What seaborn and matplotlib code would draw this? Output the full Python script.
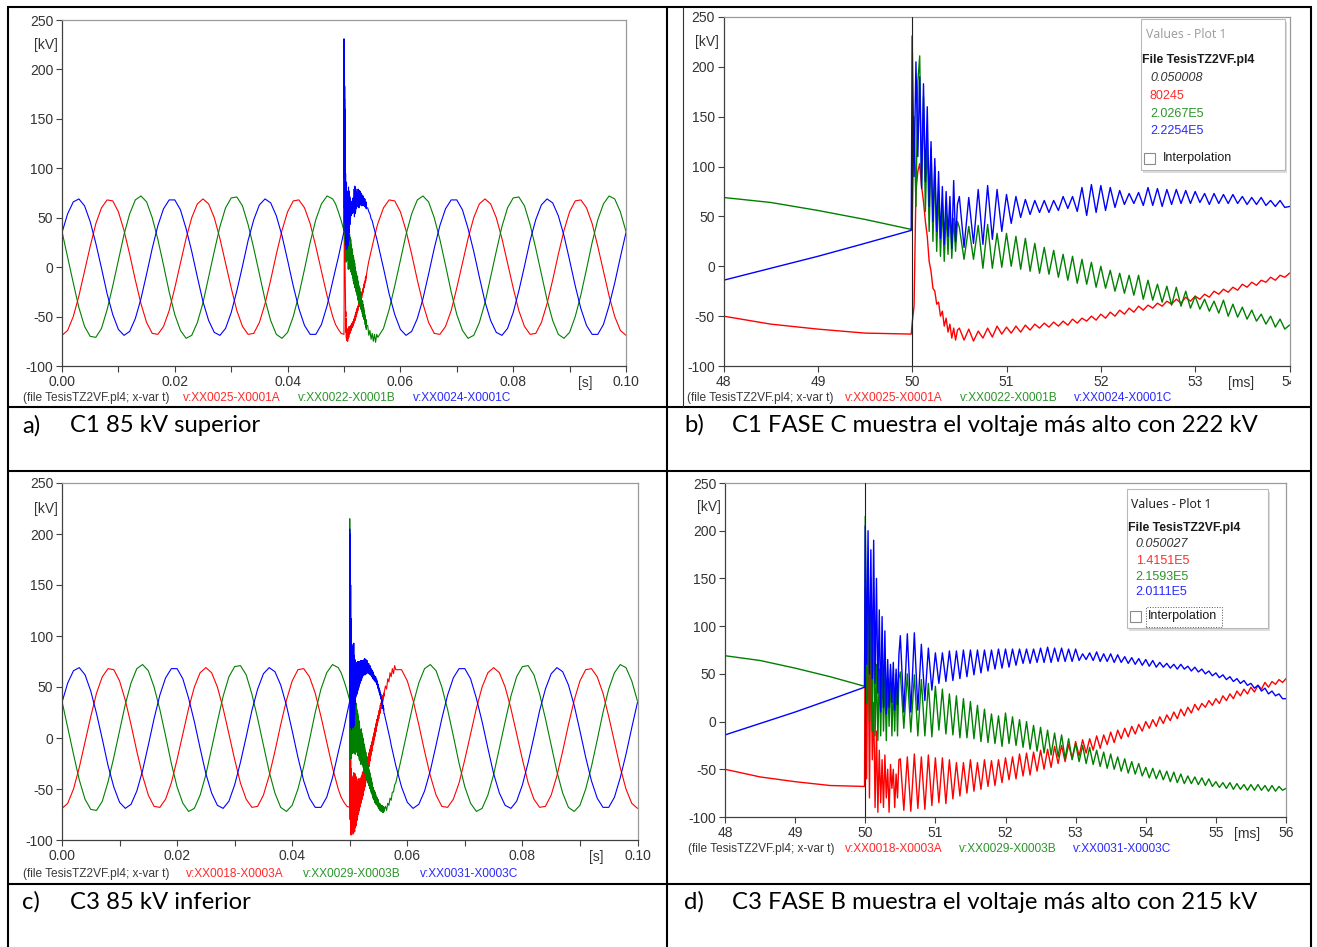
import numpy as np
import pandas as pd
import matplotlib
matplotlib.use("Agg")
import matplotlib.pyplot as plt
import seaborn as sns
from matplotlib.patches import Rectangle
from matplotlib.lines import Line2D
from matplotlib.transforms import Bbox, blended_transform_factory

sns.set_style("ticks")
plt.rcParams['font.family'] = ['Liberation Sans', 'DejaVu Sans']

# ---------------- data (kV, time in ms) ----------------
T_SS = np.arange(0, 101, 1.0)
RED_SS = [-69,-64,-50,-29,-4,21,44,60,68,67,56,37,13,-13,-37,-56,-67,-68,-60,-44,-21,4,29,50,64,69,64,50,29,4,-21,-44,-60,-68,-67,-56,-37,-13,13,37,56,67,68,60,44,21,-4,-29,-50,-64,
          -69,-64,-50,-29,-4,21,44,60,68,67,56,37,13,-13,-37,-56,-67,-68,-60,-44,-21,4,29,50,64,69,64,50,29,4,-21,-44,-60,-68,-67,-56,-37,-13,13,37,56,67,68,60,44,21,-4,-29,-50,-64,-69]
GREEN_SS = [36,10,-16,-41,-60,-70,-71,-62,-43,-19,7,33,54,68,72,66,50,28,2,-25,-48,-64,-72,-69,-56,-36,-10,16,41,60,70,71,62,43,19,-7,-33,-54,-68,-72,-66,-50,-28,-2,25,48,64,72,69,56,
            36,10,-16,-41,-60,-70,-71,-62,-43,-19,7,33,54,68,72,66,50,28,2,-25,-48,-64,-72,-69,-56,-36,-10,16,41,60,70,71,62,43,19,-7,-33,-54,-68,-72,-66,-50,-28,-2,25,48,64,72,69,56,36]
BLUE_SS = [35,54,66,69,62,46,24,-1,-27,-48,-63,-69,-65,-52,-32,-7,19,42,59,68,68,58,39,16,-10,-35,-54,-66,-69,-62,-46,-24,1,27,48,63,69,65,52,32,7,-19,-42,-59,-68,-68,-58,-39,-16,10,
           35,54,66,69,62,46,24,-1,-27,-48,-63,-69,-65,-52,-32,-7,19,42,59,68,68,58,39,16,-10,-35,-54,-66,-69,-62,-46,-24,1,27,48,63,69,65,52,32,7,-19,-42,-59,-68,-68,-58,-39,-16,10,35]

T_PRE = [48.0, 48.5, 49.0, 49.5, 49.99]
RED_PRE = [-50, -58, -63, -67, -68]
GREEN_PRE = [69, 64, 56, 47, 37]
BLUE_PRE = [-14, -2, 10, 23, 36]

# C1 transient (panels a, b)
C1_RED = ([-57,-40,75,95,103,80,65,45,30,5,-5,-22,-25,-38,-36,-50,-45,-60,-52,-66,-58,-72,-62,-74,-64]
          + [-62,-74,-63,-75,-65,-72,-62,-71,-60,-68,-61,-67,-60,-66,-59,-64,-58,-62,-57,-61,
             -56,-60,-55,-59,-53,-57,-52,-55,-50,-54,-48,-52,-46,-50,-44,-48,-42,-46,-40,-44,
             -39,-42,-37,-40,-35,-38,-33,-37,-31,-35,-30,-33,-28,-31,-25,-28,-23,-26,-21,-24,
             -18,-21,-16,-19,-14,-16,-11,-14,-9,-11,-7]
          + [0,6,11,16,21,26,31,35,40,44])
C1_GREEN = ([40,150,60,185,211,80,170,55,130,35,118,25,100,15,75,10,62,5,55,12,60,8,48,15,45]
            + [39,7,40,7,41,-2,42,-2,33,-1,33,0,30,-3,28,-5,23,-7,19,-8,
               16,-11,12,-14,10,-17,7,-18,4,-21,0,-22,-4,-25,-7,-27,-9,-29,-9,-33,
               -14,-34,-18,-36,-20,-39,-21,-40,-25,-42,-30,-43,-33,-45,-35,-47,-34,-50,-38,-51,
               -41,-53,-44,-55,-48,-58,-50,-61,-53,-63,-59]
            + [-59,-69,-64,-73,-67,-75,-68,-76,-68,-71])
C1_BLUE = ([231,90,205,110,190,78,183,85,160,60,125,45,108,35,95,28,80,22,75,30,70,18,86,25,62]
           + [70,19,69,23,77,22,81,27,77,35,72,43,70,49,67,52,66,54,66,54,
              66,56,70,58,70,55,79,51,82,54,81,56,79,59,76,62,73,63,74,61,
              79,61,78,60,77,62,77,63,76,63,75,64,73,62,73,63,72,63,72,63,
              70,62,69,62,69,61,66,60,66,59,60]
           + [60,56,54,49,47,42,38,33,29,24])

# C3 transient (panels c, d)
C3_RED = ([140,-60,120,-80,86,-40,20,-90,-10,-95,-30,-85,-40,-90,-35,-80,-50,-95,-45,-70,-50,-90,-55,-80,-40]
          + [-39,-93,-37,-94,-34,-91,-37,-92,-35,-88,-38,-85,-38,-86,-40,-81,-43,-78,-43,-75,
             -40,-73,-43,-71,-40,-68,-41,-67,-40,-64,-38,-61,-37,-60,-34,-57,-33,-56,-32,-52,
             -30,-50,-29,-48,-26,-44,-25,-42,-24,-39,-21,-36,-19,-33,-18,-30,-15,-28,-14,-24,
             -11,-22,-9,-18,-7,-16,-5,-13,-3,-10,0,-7,2,-5,5,-2,7,1,10,3,
             13,6,15,9,18,12,19,15,22,17,24,19,27,22,29,24,32,27,34,29,
             36,31,38,34,41,36,42,39,44,41,45]
          + [51,48,58,55,64,60,68,63,71,67])
C3_GREEN = ([215,20,170,0,150,-10,120,-15,60,-20,55,-15,60,-10,50,-20,45,-5,55,-15,40,-10,50,-15,45]
            + [52,-7,50,-11,49,-15,44,-15,40,-16,37,-9,34,-13,29,-14,27,-17,24,-17,
               21,-18,17,-21,13,-22,8,-23,6,-26,9,-23,5,-25,2,-27,0,-29,-4,-31,
               -6,-33,-9,-35,-12,-37,-14,-39,-18,-40,-23,-42,-25,-44,-27,-45,-30,-47,-32,-49,
               -34,-50,-37,-52,-39,-54,-42,-55,-44,-57,-48,-59,-49,-60,-51,-61,-52,-63,-53,-64,
               -55,-65,-57,-65,-58,-66,-59,-67,-60,-68,-63,-69,-64,-70,-64,-71,-65,-71,-66,-72,
               -66,-72,-66,-72,-67,-73,-67,-73,-68,-72,-70]
            + [-67,-71,-64,-66,-59,-61,-53,-53,-46,-44])
C3_BLUE = ([205,60,200,50,180,45,190,40,150,30,117,10,110,15,95,8,65,15,60,20,62,12,55,18,70]
           + [90,10,92,10,93,12,81,22,77,33,72,40,72,42,74,43,74,45,75,47,
              75,49,75,51,75,53,75,55,76,56,76,57,76,59,76,61,76,61,76,62,
              77,62,78,62,77,63,77,63,76,63,76,64,71,65,72,64,73,63,71,63,
              71,62,70,62,68,61,67,60,66,59,65,58,64,57,62,57,61,56,60,55,
              60,55,58,53,57,52,55,50,53,48,51,46,49,44,47,42,45,40,43,38,
              40,35,38,32,35,29,32,27,29,24,24]
           + [19,14,9,4,-1,-7,-12,-17,-22,-27])

T_C1 = np.concatenate([50.0 + 0.02 * np.arange(25), 50.5 + 0.05 * np.arange(71), 54.0 + 0.2 * np.arange(1, 11)])
T_C3 = np.concatenate([50.0 + 0.02 * np.arange(25), 50.5 + 0.05 * np.arange(111), 56.0 + 0.2 * np.arange(1, 11)])

Y_TICKS = [-100, -50, 0, 50, 100, 150, 200, 250]
XS_MAJOR = [0.0, 0.02, 0.04, 0.06, 0.08, 0.10]
XS_LABELS = ['0.00', '0.02', '0.04', '0.06', '0.08', '0.10']
XS_MINOR = [0.01, 0.03, 0.05, 0.07, 0.09]

LEG_C1 = ['v:XX0025-X0001A', 'v:XX0022-X0001B', 'v:XX0024-X0001C']
LEG_C3 = ['v:XX0018-X0003A', 'v:XX0029-X0003B', 'v:XX0031-X0003C']
BOX_B = ['0.050008', '80245', '2.0267E5', '2.2254E5']
BOX_D = ['0.050027', '1.4151E5', '2.1593E5', '2.0111E5']
CAPTIONS = [('a)', 'C1 85 kV superior'), ('b)', 'C1 FASE C muestra el voltaje más alto con 222 kV'),
            ('c)', 'C3 85 kV inferior'), ('d)', 'C3 FASE B muestra el voltaje más alto con 215 kV')]

COLORS = {'A': '#ff0000', 'B': '#008000', 'C': '#0000ff'}
TXT_COLORS = ['#ff2a2a', '#2a962a', '#2a2aff']


def assemble(t_post, red, green, blue, t_end):
    ss = np.asarray(T_SS)
    pre = ss < 48
    post = ss > t_end
    t = np.concatenate([ss[pre], T_PRE, t_post, ss[post]])
    frames = []
    for ph, s, p, v in [('A', RED_SS, RED_PRE, red), ('B', GREEN_SS, GREEN_PRE, green), ('C', BLUE_SS, BLUE_PRE, blue)]:
        s = np.asarray(s, float)
        vals = np.concatenate([s[pre], p, v, s[post]])
        assert len(vals) == len(t), (ph, len(vals), len(t))
        frames.append(pd.DataFrame({'t': t, 'ts': t / 1000.0, 'v': vals, 'phase': ph}))
    return pd.concat(frames, ignore_index=True)


df1 = assemble(T_C1, C1_RED, C1_GREEN, C1_BLUE, 56)
df3 = assemble(T_C3, C3_RED, C3_GREEN, C3_BLUE, 58)

# ---------------- figure ----------------
W, H = 1317, 947
fig = plt.figure(figsize=(W / 100, H / 100), dpi=100)
fig.patch.set_facecolor('white')


def fx(x):
    return x / W


def fy(y):
    return 1 - y / H


def ftext(x, y, s, **kw):
    kw.setdefault('va', 'center')
    kw.setdefault('ha', 'left')
    return fig.text(fx(x), fy(y), s, **kw)


def add_axes(l, r, t, b):
    return fig.add_axes([fx(l), fy(b), (r - l) / W, (b - t) / H])


def style(ax, xlim, major, labels, minor):
    ax.set_xlim(*xlim)
    ax.set_ylim(-100, 250)
    ax.set_yticks(Y_TICKS)
    ax.set_yticklabels([str(v) for v in Y_TICKS])
    ax.set_xticks(major)
    ax.set_xticklabels(labels)
    ax.set_xticks(minor, minor=True)
    ax.tick_params(which='both', direction='out', length=4.3, width=0.8, color='#404040')
    ax.tick_params(axis='both', labelsize=10, labelcolor='#333333', pad=2)
    ax.set_xlabel('')
    ax.set_ylabel('')
    for s in ['top', 'right']:
        ax.spines[s].set_color('#9a9a9a')
        ax.spines[s].set_linewidth(0.9)
    for s in ['left', 'bottom']:
        ax.spines[s].set_color('#404040')
        ax.spines[s].set_linewidth(0.9)
    ax.set_facecolor('white')
    tr = blended_transform_factory(ax.transAxes, ax.transData)
    ax.annotate('[kV]', xy=(0, 225), xycoords=tr, xytext=(-3, 0), textcoords='offset points',
                ha='right', va='center', fontsize=10, color='#333333')


def unit(ax, xpos, s):
    ax.annotate(s, xy=(xpos, 0), xycoords=('data', 'axes fraction'), xytext=(0, -7.4),
                textcoords='offset points', ha='center', va='top', fontsize=10, color='#333333')


def draw(ax, df, xcol, lw):
    sns.lineplot(data=df, x=xcol, y='v', hue='phase', hue_order=['A', 'B', 'C'], palette=COLORS,
                 estimator=None, sort=False, legend=False, linewidth=lw, ax=ax)


# panel a
axa = add_axes(62, 626, 20, 366)
draw(axa, df1, 'ts', 0.8)
style(axa, (0, 0.1), XS_MAJOR, XS_LABELS, XS_MINOR)
unit(axa, 0.0927, '[s]')

# panel b
axb = add_axes(723.5, 1289.5, 17, 366)
draw(axb, df1, 't', 1.0)
style(axb, (48, 54), list(range(48, 55)), [str(v) for v in range(48, 55)], [])
axb.axvline(50, color='#202020', lw=0.8, zorder=5)
unit(axb, 53.49, '[ms]')
for lab in axb.get_xticklabels():
    lab.set_clip_box(Bbox([[0, 0], [1291, H]]))
    lab.set_clip_on(True)

# panel c
axc = add_axes(62, 637.5, 483, 840)
draw(axc, df3, 'ts', 0.8)
style(axc, (0, 0.1), XS_MAJOR, XS_LABELS, XS_MINOR)
unit(axc, 0.0928, '[s]')

# panel d
axd = add_axes(725, 1286, 483, 817)
draw(axd, df3, 't', 1.0)
style(axd, (48, 56), list(range(48, 57)), [str(v) for v in range(48, 57)], [])
axd.axvline(50, color='#202020', lw=0.8, zorder=5)
unit(axd, 55.45, '[ms]')

# legend rows
LEG_FS = 8.6
for (y, xs, names) in [(398, (23.5, 183, 298, 413), LEG_C1), (398, (686.8, 845, 960, 1074), LEG_C1),
                       (874, (23.5, 186, 303, 420), LEG_C3), (849, (688, 845, 959, 1073), LEG_C3)]:
    ftext(xs[0], y, '(file TesisTZ2VF.pl4; x-var t)', fontsize=LEG_FS, color='#3a3a3a')
    for x, n, c in zip(xs[1:], names, TXT_COLORS):
        ftext(x, y, n, fontsize=LEG_FS, color=c)


# values boxes
def value_box(x0, x1, y0, y1, title_color, rows, lines_y, title_y, file_y, chk_y, xt, xv, dotted):
    fig.add_artist(Rectangle((fx(x0 + 2), fy(y1 + 3)), (x1 - x0) / W, (y1 - y0) / H,
                             transform=fig.transFigure, facecolor='#dcdcdc', edgecolor='none', zorder=6))
    fig.add_artist(Rectangle((fx(x0), fy(y1)), (x1 - x0) / W, (y1 - y0) / H,
                             transform=fig.transFigure, facecolor='white', edgecolor='#b8b8b8', lw=0.8, zorder=7))
    ftext(xt + 3, title_y, 'Values - Plot 1', fontsize=8.8, color=title_color, family=['Noto Sans', 'DejaVu Sans'], zorder=8)
    ftext(xt, file_y, 'File TesisTZ2VF.pl4', fontsize=8.8, fontweight='bold', color='#1a1a1a', zorder=8)
    cols = ['#333333'] + TXT_COLORS
    for i, (s, c, yy) in enumerate(zip(rows, cols, lines_y)):
        ftext(xv, yy, s, fontsize=9, color=c, style='italic' if i == 0 else 'normal', zorder=8)
    fig.add_artist(Rectangle((fx(xt + 1.5), fy(chk_y + 5.5)), 11 / W, 11 / H, transform=fig.transFigure,
                             facecolor='white', edgecolor='#8a8a8a', lw=0.8, zorder=8))
    ftext(xt + 20, chk_y, 'Interpolation', fontsize=9, color='#1a1a1a', zorder=8)
    if dotted:
        fig.add_artist(Rectangle((fx(xt + 18), fy(chk_y + 10)), 76 / W, 20 / H, transform=fig.transFigure,
                                 facecolor='none', edgecolor='#555555', lw=0.7, ls=':', zorder=8))


value_box(1141, 1285, 19, 170, '#a0a0a0', BOX_B, [78, 96, 114, 131.5], 35, 60, 158.5, 1142.5, 1150, False)
value_box(1126.7, 1268, 489, 628, '#222222', BOX_D, [544, 561, 577, 592], 504, 528, 616.5, 1128, 1135.7, True)

# captions
CAP_FS = 17.2
for (lab, txt), (x, y) in zip(CAPTIONS, [(22, 426), (684, 425), (22, 902), (684, 902)]):
    ftext(x, y, lab, fontsize=CAP_FS, family=['Lato', 'DejaVu Sans'], color='black')
    ftext(x + 48.5, y, txt, fontsize=CAP_FS, family=['Lato', 'DejaVu Sans'], color='black')


# table lines
def fline(x0, y0, x1, y1, lw=1.5, color='black'):
    fig.add_artist(Line2D([fx(x0), fx(x1)], [fy(y0), fy(y1)], transform=fig.transFigure,
                          lw=lw, color=color, solid_capstyle='butt', zorder=10))


fline(7, 7, 1312, 7)
for yy in (407, 471, 884):
    fline(7, yy, 1312, yy)
for xx in (7.5, 667, 1311):
    fline(xx, 7, xx, 947)
fline(683, 7.5, 683, 406.5, lw=0.8, color='#333333')

fig.savefig('out.png', dpi=100, facecolor='white')
